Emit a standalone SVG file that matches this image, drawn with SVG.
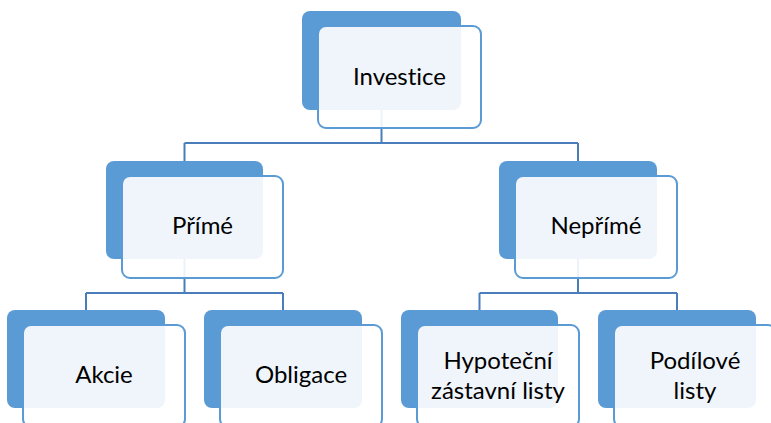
<svg xmlns="http://www.w3.org/2000/svg" width="771" height="423" viewBox="0 0 771 423">
<style>
.dark{fill:#5B9BD5;}
.light{fill:#FFFFFF;fill-opacity:0.9;stroke:#5B9BD5;stroke-width:2;}
.conn{fill:none;stroke:#4A7EBB;stroke-width:2;}
text{font-family:Lato,"Open Sans","Liberation Sans",sans-serif;font-size:24px;fill:#000;text-anchor:middle;font-variant-ligatures:none;}
</style>
<rect width="771" height="423" fill="#FFFFFF"/>
<g id="connectors">
<path class="conn" d="M381.5 110 V143 M184.5 143 H578 M184.5 143 V161 M578 143 V161"/>
<path class="conn" d="M184.5 259 V293 M86 293 H283 M86 293 V310 M283 293 V310"/>
<path class="conn" d="M578 259 V293 M479.5 293 H677 M479.5 293 V310 M677 293 V310"/>
</g>
<g id="node-investice">
<rect class="dark" x="302" y="11" width="159" height="99" rx="8"/>
<rect class="light" x="318" y="26" width="163" height="102" rx="8"/>
<text x="399.5" y="85">Investice</text>
</g>
<g id="node-prime">
<rect class="dark" x="106" y="161" width="157" height="98" rx="8"/>
<rect class="light" x="122" y="176" width="161" height="102" rx="8"/>
<text x="202.5" y="234">Přímé</text>
</g>
<g id="node-neprime">
<rect class="dark" x="499" y="161" width="158" height="98" rx="8"/>
<rect class="light" x="515" y="176" width="162" height="102" rx="8"/>
<text x="596" y="234">Nepřímé</text>
</g>
<g id="node-akcie">
<rect class="dark" x="7" y="310" width="158" height="98" rx="8"/>
<rect class="light" x="23" y="325" width="162" height="102" rx="8"/>
<text x="104" y="383">Akcie</text>
</g>
<g id="node-obligace">
<rect class="dark" x="204" y="310" width="158" height="98" rx="8"/>
<rect class="light" x="220" y="325" width="162" height="102" rx="8"/>
<text x="301" y="383">Obligace</text>
</g>
<g id="node-hypotecni">
<rect class="dark" x="401" y="310" width="157" height="98" rx="8"/>
<rect class="light" x="417" y="325" width="162" height="102" rx="8"/>
<text x="498" y="369">Hypoteční</text>
<text x="498" y="399">zástavní listy</text>
</g>
<g id="node-podilove">
<rect class="dark" x="598" y="310" width="158" height="98" rx="8"/>
<rect class="light" x="614" y="325" width="162" height="102" rx="8"/>
<text x="695" y="369">Podílové</text>
<text x="695" y="399">listy</text>
</g>
</svg>
